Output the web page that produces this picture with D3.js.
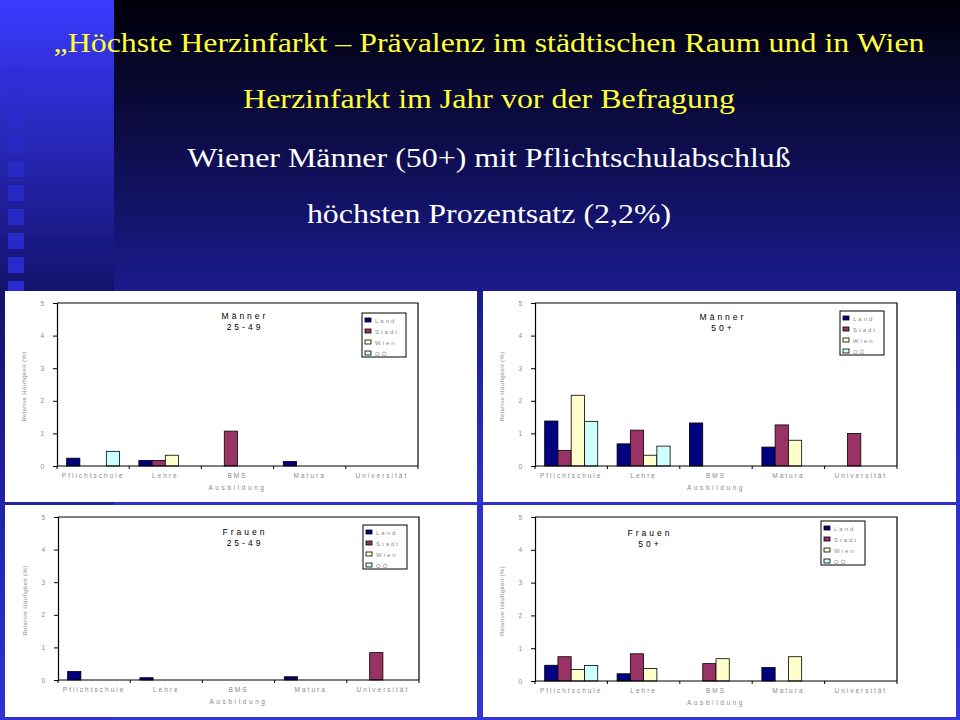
<!DOCTYPE html>
<html>
<head>
<meta charset="utf-8">
<script src="https://cdn.jsdelivr.net/npm/d3@7"></script>
<style>
  body { margin: 0; background: #000; }
  svg { display: block; }
  .small { font-family: Arial, "Liberation Sans", sans-serif; fill: #8a8a8a; }
</style>
</head>
<body>
<svg id="slide"></svg>
<script>
const width = 960;
const height = 720;

// categories and series
const categories = ['Pflichtschule', 'Lehre', 'BMS', 'Matura', 'Universität'];
const series = ['Land', 'Stadt', 'Wien', 'OÖ'];
const seriesColors = ['#000080', '#993366', '#ffffcc', '#ccffff'];
const yTicks = [0, 1, 2, 3, 4, 5];

// values in %, one row per series (Land, Stadt, Wien, OÖ)
const maenner2549 = [
  [0.24, 0.17, 0, 0.14, 0],
  [0, 0.17, 1.07, 0, 0],
  [0, 0.33, 0, 0, 0],
  [0.45, 0, 0, 0, 0]
];
const maenner50 = [
  [1.38, 0.68, 1.32, 0.58, 0],
  [0.48, 1.10, 0, 1.26, 1.00],
  [2.17, 0.33, 0, 0.79, 0],
  [1.37, 0.61, 0, 0, 0]
];
const frauen2549 = [
  [0.26, 0.07, 0, 0.10, 0],
  [0, 0, 0, 0, 0.84],
  [0, 0, 0, 0, 0],
  [0, 0, 0, 0, 0]
];
const frauen50 = [
  [0.48, 0.22, 0, 0.41, 0],
  [0.74, 0.83, 0.53, 0, 0],
  [0.35, 0.38, 0.68, 0.74, 0],
  [0.47, 0, 0, 0, 0]
];

const titleLines = [
  { text: '„Höchste Herzinfarkt – Prävalenz im städtischen Raum und in Wien', y: 52, color: '#ffff33' },
  { text: 'Herzinfarkt im Jahr vor der Befragung', y: 108, color: '#ffff33' },
  { text: 'Wiener Männer (50+) mit Pflichtschulabschluß', y: 167, color: '#ffffff' },
  { text: 'höchsten Prozentsatz (2,2%)', y: 223, color: '#ffffff' }
];

// panel layout
const panels = [
  { data: maenner2549, label: ['Männer', '25-49'], box: [5, 291, 472, 211], plot: [57, 418, 303, 466], title: [245, 319], legend: [362, 313] },
  { data: maenner50, label: ['Männer', '50+'], box: [483, 291, 473, 211], plot: [535, 897, 303, 466], title: [723, 320], legend: [840, 311] },
  { data: frauen2549, label: ['Frauen', '25-49'], box: [5, 505, 472, 212], plot: [58, 419, 517, 680], title: [245, 535], legend: [363, 525] },
  { data: frauen50, label: ['Frauen', '50+'], box: [483, 505, 473, 212], plot: [535, 897, 517, 681], title: [650, 536], legend: [821, 521] }
];

const svg = d3.select('#slide')
  .attr('width', width)
  .attr('height', height);

const defs = svg.append('defs');

const bgGrad = defs.append('linearGradient').attr('id', 'bg').attr('x1', 0).attr('y1', 0).attr('x2', 0).attr('y2', 1);
bgGrad.append('stop').attr('offset', 0).attr('stop-color', '#00000a');
bgGrad.append('stop').attr('offset', 0.4).attr('stop-color', '#1a1a8c');
bgGrad.append('stop').attr('offset', 0.7).attr('stop-color', '#3030d0');
bgGrad.append('stop').attr('offset', 1).attr('stop-color', '#3535dc');

const stripGrad = defs.append('linearGradient').attr('id', 'strip').attr('x1', 0).attr('y1', 0).attr('x2', 0).attr('y2', 1);
stripGrad.append('stop').attr('offset', 0).attr('stop-color', '#3a3aff');
stripGrad.append('stop').attr('offset', 0.41).attr('stop-color', '#12126a');
stripGrad.append('stop').attr('offset', 0.7).attr('stop-color', '#2222a8');
stripGrad.append('stop').attr('offset', 1).attr('stop-color', '#3232d4');

svg.append('rect').attr('width', width).attr('height', height).attr('fill', 'url(#bg)');
svg.append('rect').attr('width', 114).attr('height', height).attr('fill', 'url(#strip)');

// little squares on the left strip
svg.append('g')
  .selectAll('rect')
  .data(d3.range(10))
  .join('rect')
  .attr('x', 8)
  .attr('y', d => 65 + d * 24)
  .attr('width', 16)
  .attr('height', 16)
  .attr('fill', '#2c2cd4')
  .attr('opacity', d => 0.35 + d * 0.07);

// headline, Times-like and a bit wide like the slide
svg.append('g')
  .attr('transform', 'translate(489,0) scale(1.14,1)')
  .selectAll('text')
  .data(titleLines)
  .join('text')
  .attr('x', 0)
  .attr('y', d => d.y)
  .attr('text-anchor', 'middle')
  .attr('font-family', '"Liberation Serif", "Times New Roman", serif')
  .attr('font-size', 28)
  .attr('fill', d => d.color)
  .text(d => d.text);

function drawPanel(p) {
  const g = svg.append('g');
  const [bx, by, bw, bh] = p.box;
  const [px0, px1, py0, py1] = p.plot;

  g.append('rect')
    .attr('x', bx).attr('y', by).attr('width', bw).attr('height', bh)
    .attr('fill', '#ffffff');

  const x = d3.scaleBand().domain(categories).range([px0, px1]);
  const xs = d3.scaleBand().domain(series).range([0, x.bandwidth()]).paddingOuter(0.73);
  const y = d3.scaleLinear().domain([0, 5]).range([py1, py0]);

  // plot frame (top and right)
  g.append('path')
    .attr('d', `M${px0},${py0}H${px1}V${py1}`)
    .attr('fill', 'none')
    .attr('stroke', '#000')
    .attr('stroke-width', 1.2);

  // bars
  const rows = [];
  p.data.forEach((vals, si) => {
    vals.forEach((v, ci) => {
      if (v > 0) rows.push({ s: series[si], c: categories[ci], v: v, color: seriesColors[si] });
    });
  });

  g.append('g')
    .selectAll('rect')
    .data(rows)
    .join('rect')
    .attr('x', d => x(d.c) + xs(d.s))
    .attr('y', d => y(d.v))
    .attr('width', xs.bandwidth())
    .attr('height', d => y(0) - y(d.v))
    .attr('fill', d => d.color)
    .attr('stroke', '#000')
    .attr('stroke-width', 0.8);

  // y axis
  const yAxis = g.append('g')
    .attr('transform', `translate(${px0},0)`)
    .call(d3.axisLeft(y).tickValues(yTicks).tickFormat(d3.format('d')).tickSize(4).tickPadding(9));
  yAxis.select('.domain').attr('stroke', '#000').attr('stroke-width', 1.2);
  yAxis.selectAll('.tick line').attr('stroke', '#000');
  yAxis.selectAll('.tick text')
    .attr('class', 'small')
    .attr('font-size', 6.5);

  // x axis with category separators
  const xAxis = g.append('g')
    .attr('transform', `translate(0,${py1})`);
  xAxis.append('line')
    .attr('x1', px0).attr('x2', px1)
    .attr('stroke', '#000').attr('stroke-width', 1.2);
  xAxis.selectAll('.sep')
    .data(categories.concat(['end']))
    .join('line')
    .attr('class', 'sep')
    .attr('x1', (d, i) => i < categories.length ? x(d) : px1)
    .attr('x2', (d, i) => i < categories.length ? x(d) : px1)
    .attr('y1', 0).attr('y2', 3)
    .attr('stroke', '#000');
  xAxis.selectAll('.cat')
    .data(categories)
    .join('text')
    .attr('class', 'small')
    .attr('x', d => x(d) + x.bandwidth() / 2)
    .attr('y', 12)
    .attr('text-anchor', 'middle')
    .attr('font-size', 6.5)
    .attr('letter-spacing', 2)
    .text(d => d);

  // axis titles
  g.append('text')
    .attr('class', 'small')
    .attr('x', (px0 + px1) / 2)
    .attr('y', py1 + 24)
    .attr('text-anchor', 'middle')
    .attr('font-size', 6.5)
    .attr('letter-spacing', 2.6)
    .text('Ausbildung');

  g.append('text')
    .attr('class', 'small')
    .attr('transform', `translate(${px0 - 31},${(py0 + py1) / 2 + 2}) rotate(-90)`)
    .attr('text-anchor', 'middle')
    .attr('font-size', 6)
    .attr('letter-spacing', 0.4)
    .text('Relative Häufigkeit (%)');

  // chart label
  g.append('g')
    .selectAll('text')
    .data(p.label)
    .join('text')
    .attr('x', p.title[0])
    .attr('y', (d, i) => p.title[1] + i * 11)
    .attr('text-anchor', 'middle')
    .attr('font-family', 'Arial, "Liberation Sans", sans-serif')
    .attr('font-size', 8.5)
    .attr('letter-spacing', 3)
    .attr('fill', '#000')
    .text(d => d);

  // legend
  const [lx, ly] = p.legend;
  const lg = g.append('g').attr('transform', `translate(${lx},${ly})`);
  lg.append('rect')
    .attr('width', 44).attr('height', 44)
    .attr('fill', '#fff')
    .attr('stroke', '#000')
    .attr('stroke-width', 1);
  const items = lg.selectAll('.item')
    .data(series)
    .join('g')
    .attr('class', 'item')
    .attr('transform', (d, i) => `translate(3,${5 + i * 11})`);
  items.append('rect')
    .attr('width', 6).attr('height', 4)
    .attr('fill', (d, i) => seriesColors[i])
    .attr('stroke', '#000')
    .attr('stroke-width', 0.8);
  items.append('text')
    .attr('class', 'small')
    .attr('x', 10)
    .attr('y', 4.5)
    .attr('font-size', 6)
    .attr('letter-spacing', 2)
    .text(d => d);
}

panels.forEach(drawPanel);
</script>
</body>
</html>
